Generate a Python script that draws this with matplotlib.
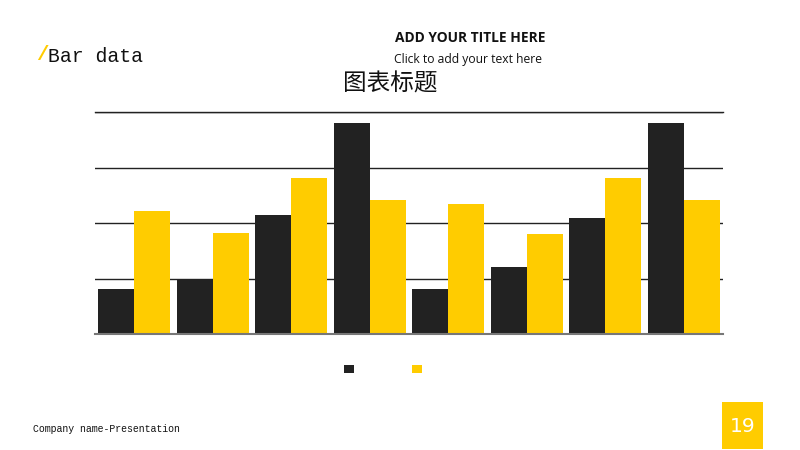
import numpy as np
import matplotlib.pyplot as plt
from matplotlib.patches import Rectangle

# Chart data (gridlines at 1, 2, 3, 4)
categories = ["1", "2", "3", "4", "5", "6", "7", "8"]
series_names = ["系列 1", "系列 2"]
black_vals = [0.81, 1.00, 2.14, 3.80, 0.81, 1.20, 2.09, 3.80]
yellow_vals = [2.22, 1.82, 2.81, 2.41, 2.34, 1.81, 2.81, 2.41]

BLACK = "#222222"
YELLOW = "#FFCC00"

plt.rcParams["font.family"] = ["Noto Sans CJK SC", "DejaVu Sans"]

fig = plt.figure(figsize=(8, 4.5), dpi=100)
fig.patch.set_facecolor("white")

ax = fig.add_axes([95 / 800, 116 / 450, 628 / 800, 221.7 / 450])
x = np.arange(len(categories))
w = 0.458
ax.bar(x - w / 2, black_vals, width=w, color=BLACK, label=series_names[0])
ax.bar(x + w / 2, yellow_vals, width=w, color=YELLOW, label=series_names[1])

ax.set_xlim(-0.5, len(categories) - 0.5)
ax.set_ylim(0, 4)
ax.set_yticks([1, 2, 3, 4])
ax.yaxis.grid(True, color="#222222", linewidth=1.0)
ax.set_axisbelow(True)
ax.tick_params(left=False, bottom=False, labelleft=False, labelbottom=False)
for s in ["left", "right", "top"]:
    ax.spines[s].set_visible(False)
ax.spines["bottom"].set_color("#777777")
ax.spines["bottom"].set_linewidth(1.5)
# top gridline at the axes edge
ax.axhline(4, color="#222222", linewidth=1.0, clip_on=False)

# legend: coloured squares only, no text
handles, _ = ax.get_legend_handles_labels()
leg = ax.legend(handles, ["", ""], loc="center", bbox_to_anchor=(0.4592, -0.162),
                ncol=2, frameon=False, handlelength=0.72, handleheight=0.45,
                handletextpad=0.0, columnspacing=4.17, fontsize=10)

# chart title (centred on the slide, not on the plot area)
fig.text(390 / 800, 1 - 84 / 450, "图表标题", fontsize=17, color="#111111",
         ha="center", va="center")

# slide decorations
fig.text(395 / 800, 1 - 38 / 450, "ADD YOUR TITLE HERE", fontsize=9.9,
         fontweight="bold", ha="left", va="center", color="#111111",
         family=["Open Sans", "DejaVu Sans"])
fig.text(394 / 800, 1 - 60 / 450, "Click to add your text here", fontsize=8.7,
         ha="left", va="center", color="#111111", family=["Open Sans", "DejaVu Sans"])
fig.text(36 / 800, 1 - 55 / 450, "/", fontsize=15, color=YELLOW, fontweight="bold",
         ha="left", va="center", family=["Liberation Mono"])
fig.text(48 / 800, 1 - 57 / 450, "Bar data", fontsize=14.2, color="#111111",
         ha="left", va="center", family=["Liberation Mono"])
fig.text(33 / 800, 1 - 429 / 450, "Company name-Presentation", fontsize=7.1,
         color="#111111", ha="left", va="center", family=["Liberation Mono"])

fig.add_artist(Rectangle((722 / 800, 1 - 449 / 450), 41 / 800, 47 / 450,
                         transform=fig.transFigure, facecolor=YELLOW, edgecolor="none"))
fig.text(742.5 / 800, 1 - 427 / 450, "19", fontsize=14.5, color="white",
         ha="center", va="center", family=["DejaVu Sans"])

fig.savefig("out.png", dpi=100)
